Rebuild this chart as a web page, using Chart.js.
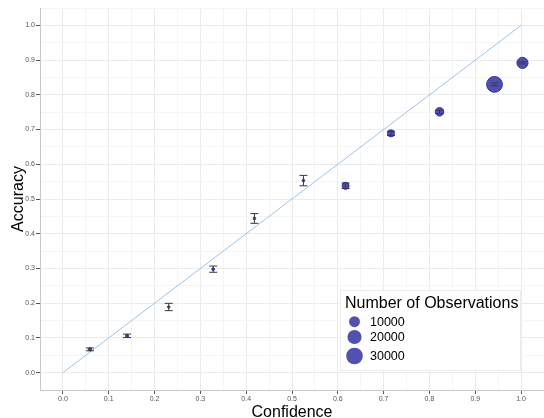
<!DOCTYPE html>
<html lang="en">
<head>
    <meta charset="UTF-8">
    <title>Calibration plot</title>
    <script src="https://cdn.jsdelivr.net/npm/chart.js"></script>
    <style>
        body {
            margin: 0;
            background: #ffffff;
        }
        #wrap {
            width: 544px;
            height: 418px;
        }
    </style>
</head>
<body>
    <div id="wrap"><canvas id="calib"></canvas></div>

    <script>
        // values
        const confidence = [0.059, 0.140, 0.231, 0.328, 0.418, 0.525, 0.617, 0.716, 0.822, 0.942, 1.003];
        const accuracy   = [0.067, 0.106, 0.189, 0.298, 0.444, 0.553, 0.538, 0.689, 0.751, 0.830, 0.892];
        const errHalf    = [0.004, 0.005, 0.0105, 0.009, 0.014, 0.015, 0.008, 0.006, 0.005, 0.004, 0.003];
        const observations = [320, 165, 30, 106, 60, 60, 4100, 4100, 6750, 30500, 13400];
        const legendSizes = [10000, 20000, 30000];
        const diagonal = [{x: 0, y: 0}, {x: 1, y: 1}];

        const tickValues = [];
        for (let i = -1; i <= 21; i++) tickValues.push(Math.round(i * 5) / 100);

        // ggplot-like area scale for point size
        function radiusFor(n) {
            return 1.5 + 6.9 * Math.sqrt(n / 30500);
        }

        const pointData = confidence.map((c, i) => ({x: c, y: accuracy[i]}));
        const fill = 'rgba(64, 64, 172, 0.92)';
        const stroke = '#30309a';

        function isMajor(idx) { return idx % 2 === 1; }

        function axis(titleText, isX) {
            return {
                type: 'linear',
                min: -0.05,
                max: 1.05,
                afterBuildTicks: s => { s.ticks = tickValues.map(v => ({value: v})); },
                afterFit: s => {
                    if (isX) s.height = 28; else s.width = 40;
                    s.paddingLeft = 0; s.paddingRight = 0;
                    s.paddingTop = 0; s.paddingBottom = 0;
                },
                grid: {
                    color: ctx => isMajor(ctx.index) ? '#ebebeb' : '#f5f5f5',
                    tickColor: ctx => isMajor(ctx.index) ? '#555555' : 'rgba(0,0,0,0)',
                    tickLength: 4,
                    lineWidth: 1
                },
                border: { display: true, color: '#c8c8c8', width: 1 },
                ticks: {
                    autoSkip: false,
                    maxRotation: 0,
                    padding: 1,
                    color: '#555555',
                    font: { family: 'Liberation Sans', size: 7 },
                    callback: (v, idx) => isMajor(idx) ? v.toFixed(1) : ''
                },
                title: {
                    display: true,
                    text: titleText,
                    color: '#000000',
                    font: { family: 'Liberation Sans', size: 16 },
                    padding: isX ? { top: 0, bottom: -4 } : { top: 8.5, bottom: 0 }
                }
            };
        }

        const errorBars = {
            id: 'errorBars',
            afterDatasetsDraw(chart) {
                const {ctx, scales: {x, y}} = chart;
                ctx.save();
                ctx.strokeStyle = '#3a3a3a';
                ctx.lineWidth = 1;
                confidence.forEach((c, i) => {
                    const px = x.getPixelForValue(c);
                    const top = y.getPixelForValue(accuracy[i] + errHalf[i]);
                    const bot = y.getPixelForValue(accuracy[i] - errHalf[i]);
                    ctx.beginPath();
                    ctx.moveTo(px, top); ctx.lineTo(px, bot);
                    ctx.moveTo(px - 4, top); ctx.lineTo(px + 4, top);
                    ctx.moveTo(px - 4, bot); ctx.lineTo(px + 4, bot);
                    ctx.stroke();
                });
                ctx.restore();
            }
        };

        const sizeLegend = {
            id: 'sizeLegend',
            afterDraw(chart) {
                const ctx = chart.ctx;
                const bx = 340, by = 290, bw = 180, bh = 80;
                ctx.save();
                ctx.fillStyle = '#ffffff';
                ctx.fillRect(bx, by, bw, bh);
                ctx.strokeStyle = '#ececec';
                ctx.lineWidth = 1;
                ctx.strokeRect(bx + 0.5, by + 0.5, bw, bh);
                ctx.fillStyle = '#000000';
                ctx.textBaseline = 'middle';
                ctx.font = '16px "Liberation Sans"';
                ctx.fillText('Number of Observations', 345, 304);
                const rows = [321.7, 337, 356];
                ctx.font = '12.5px "Liberation Sans"';
                legendSizes.forEach((n, i) => {
                    ctx.beginPath();
                    ctx.arc(354.5, rows[i], radiusFor(n), 0, Math.PI * 2);
                    ctx.fillStyle = 'rgba(72, 72, 172, 0.95)';
                    ctx.fill();
                    ctx.fillStyle = '#000000';
                    ctx.fillText(String(n), 370, rows[i] + 0.5);
                });
                ctx.restore();
            }
        };

        new Chart(document.getElementById('calib'), {
            type: 'scatter',
            data: {
                datasets: [
                    {
                        label: 'bins',
                        data: pointData,
                        pointRadius: observations.map(n => radiusFor(n) - 0.5),
                        pointBackgroundColor: fill,
                        pointBorderColor: stroke,
                        pointBorderWidth: 1,
                        pointHoverRadius: observations.map(n => radiusFor(n) - 0.5)
                    },
                    {
                        label: 'perfect',
                        type: 'line',
                        data: diagonal,
                        borderColor: '#9cc4e8',
                        borderWidth: 1,
                        pointRadius: 0,
                        fill: false
                    }
                ]
            },
            options: {
                responsive: true,
                maintainAspectRatio: false,
                animation: false,
                layout: { autoPadding: false, padding: { top: 8, right: 0, left: 0, bottom: 0 } },
                plugins: {
                    legend: { display: false },
                    tooltip: { enabled: false }
                },
                scales: {
                    x: axis('Confidence', true),
                    y: axis('Accuracy', false)
                }
            },
            plugins: [errorBars, sizeLegend]
        });
    </script>
</body>
</html>
